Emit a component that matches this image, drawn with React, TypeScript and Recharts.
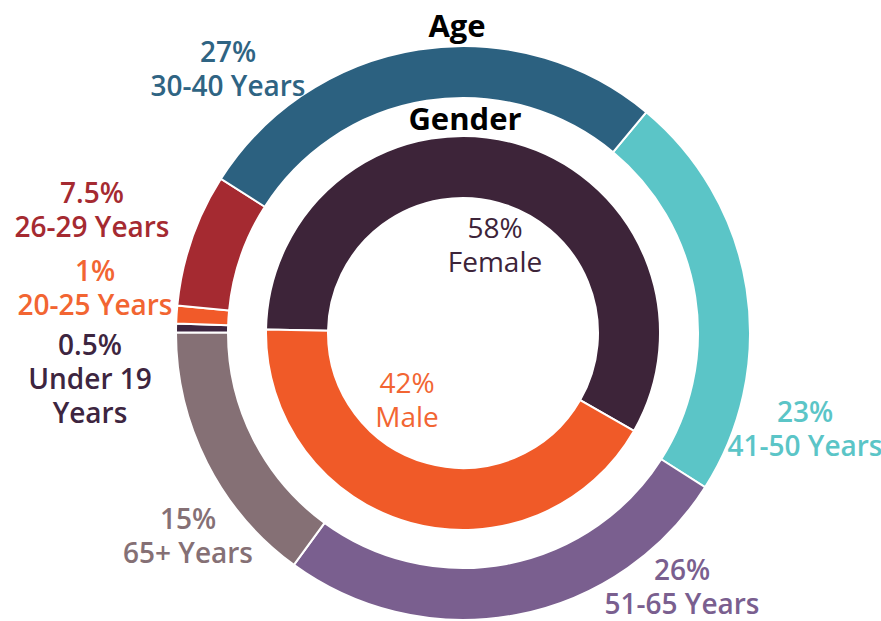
import React from 'react';
import { PieChart, Pie, Cell } from 'recharts';

// ---- data ----
const ageGroups = ['41-50 Years', '51-65 Years', '65+ Years', 'Under 19 Years', '20-25 Years', '26-29 Years', '30-40 Years'];
const agePercents = [23, 26, 15, 0.5, 1, 7.5, 27];
const ageLabelLines = [['23%', '41-50 Years'], ['26%', '51-65 Years'], ['15%', '65+ Years'], ['0.5%', 'Under 19', 'Years'], ['1%', '20-25 Years'], ['7.5%', '26-29 Years'], ['27%', '30-40 Years']];
const genders = ['Female', 'Male'];
const genderPercents = [58, 42];
const genderLabelLines = [['58%', 'Female'], ['42%', 'Male']];
const titles = ['Age', 'Gender'];

// ---- styles / layout ----
const ageColors = ['#5bc5c7', '#7a5f8f', '#857075', '#3d2540', '#f15a29', '#a52a31', '#2c6180'];
const ageTextColors = ['#5bc5c7', '#7a5f8f', '#857075', '#3d2540', '#f26532', '#a52a31', '#2f6483'];
const genderColors = ['#3d2439', '#f05a28'];
const genderTextColors = ['#3d2439', '#f26532'];
// label block centre offsets from pie centre (first line centre)
const ageLabelOffsets = [
  { dx: 342, dy: 78 },
  { dx: 219, dy: 236 },
  { dx: -275, dy: 185 },
  { dx: -373, dy: 11 },
  { dx: -368, dy: -63 },
  { dx: -371, dy: -141 },
  { dx: -235, dy: -282 },
];
const genderLabelOffsets = [
  { dx: 32, dy: -106 },
  { dx: -56, dy: 49 },
];
const LINE_H = 34;
const FONT = '"Open Sans", "Noto Sans", sans-serif';
// Recharts adds a 5px default margin to the pie centre
const CX = 458;
const CY = 328;

const ageData = ageGroups.map((name, i) => ({ name, value: agePercents[i] }));
const genderData = genders.map((name, i) => ({ name, value: genderPercents[i] }));

const makeLabel = (lines: string[][], offsets: { dx: number; dy: number }[], colors: string[], weight: number) =>
  (props: any) => {
    const { cx, cy, index } = props;
    const off = offsets[index];
    const ls = lines[index];
    return (
      <text
        key={`l-${index}`}
        x={cx + off.dx}
        y={cy + off.dy}
        textAnchor="middle"
        dominantBaseline="central"
        fill={colors[index]}
        fontFamily={FONT}
        fontWeight={weight}
        fontSize={28}
      >
        {ls.map((t, j) => (
          <tspan key={j} x={cx + off.dx} dy={j === 0 ? 0 : LINE_H}>
            {t}
          </tspan>
        ))}
      </text>
    );
  };

export default function App() {
  return (
    <div style={{ position: 'absolute', left: 0, top: 0 }}>
      <PieChart width={881} height={621}>
        <Pie
          data={ageData}
          dataKey="value"
          nameKey="name"
          cx={CX}
          cy={CY}
          innerRadius={235}
          outerRadius={287}
          startAngle={50.3}
          endAngle={-309.7}
          stroke="#ffffff"
          strokeWidth={2}
          isAnimationActive={false}
          labelLine={false}
          label={makeLabel(ageLabelLines, ageLabelOffsets, ageTextColors, 600)}
        >
          {ageData.map((d, i) => (
            <Cell key={d.name} fill={ageColors[i]} />
          ))}
        </Pie>
        <Pie
          data={genderData}
          dataKey="value"
          nameKey="name"
          cx={CX}
          cy={CY}
          innerRadius={135}
          outerRadius={197}
          startAngle={179}
          endAngle={-181}
          stroke="#ffffff"
          strokeWidth={2}
          isAnimationActive={false}
          labelLine={false}
          label={makeLabel(genderLabelLines, genderLabelOffsets, genderTextColors, 400)}
        >
          {genderData.map((d, i) => (
            <Cell key={d.name} fill={genderColors[i]} />
          ))}
        </Pie>
        <text x={457} y={25} textAnchor="middle" dominantBaseline="central" fontFamily={FONT} fontWeight={700} fontSize={31} fill="#000">
          {titles[0]}
        </text>
        <text x={465} y={118} textAnchor="middle" dominantBaseline="central" fontFamily={FONT} fontWeight={700} fontSize={31} fill="#000">
          {titles[1]}
        </text>
      </PieChart>
    </div>
  );
}
